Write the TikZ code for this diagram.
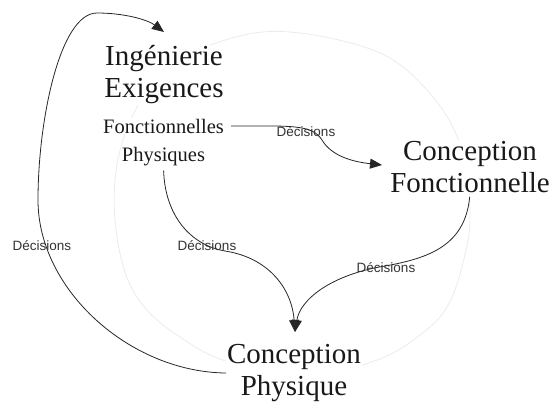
\documentclass[tikz,border=0pt]{standalone}
\usepackage{fontspec}
\setmainfont{Liberation Serif}
\setsansfont{Liberation Sans}
\usetikzlibrary{arrows.meta}
\begin{document}
\begin{tikzpicture}[x=1pt,y=-1pt,
  title/.style={font=\fontsize{29}{32}\selectfont, align=center, fill=white, inner sep=1pt, text=black!90},
  sub/.style={font=\fontsize{20.5}{24}\selectfont, fill=white, inner sep=1pt, text=black!90},
  dlabel/.style={font=\sffamily\fontsize{13.5}{16}\selectfont, text=black!80, inner sep=0pt},
  flow/.style={draw=black!85, line width=0.8pt, -{Triangle[length=12pt,width=10pt]}},
  ring/.style={draw=black!8, line width=0.8pt}]
\useasboundingbox (0,0) rectangle (551,407);
% faint background cycle
\draw[ring] plot[smooth cycle, tension=0.6] coordinates {(290,32) (380,53) (433,97) (462,150) (470,215) (463,263) (447,307) (420,335) (377,360) (300,378) (223,360) (180,337) (147,310) (126,275) (115,220) (117,165) (133,115) (165,70) (225,40)};
% nodes
\node[title] (ing) at (164,75) {Ingénierie\\Exigences};
\node[sub] (fon) at (163.5,126) {Fonctionnelles};
\node[sub] (phy) at (163.5,157) {Physiques};
\node[title] (cf) at (470,167) {Conception\\Fonctionnelle};
\node[title] (cp) at (294,373) {Conception\\Physique};
\coordinate (tip) at (295,332);
\coordinate (cfin) at (382,165);
\coordinate (ingtop) at (164,32);
% connectors
\draw[flow] (cp.west) .. controls (130,372) and (38,290) .. (38,200)
  .. controls (38,120) and (60,13) .. (97,13)
  .. controls (125,13) and (148,20) .. (ingtop);
\draw[flow, shorten <=6pt] (fon.east) .. controls (290,126) and (312,124) .. (322,140)
  .. controls (332,157) and (355,162) .. (cfin);
\draw[flow, shorten <=3pt] (phy.south) .. controls (165,215) and (190,245) .. (225,251)
  .. controls (270,258) and (292,290) .. (tip);
\draw[flow, shorten <=3pt] (cf.south) .. controls (465,245) and (430,258) .. (385,266)
  .. controls (330,275) and (300,300) .. (tip);
% labels
\node[dlabel] (d1) at (42,246) {Décisions};
\node[dlabel] (d2) at (306,132) {Décisions};
\node[dlabel] (d3) at (207,246) {Décisions};
\node[dlabel] (d4) at (386,268) {Décisions};
\end{tikzpicture}
\end{document}
